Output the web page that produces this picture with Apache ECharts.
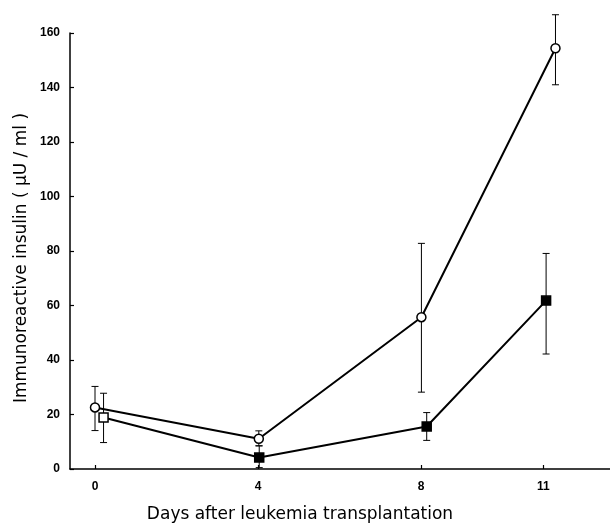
<!DOCTYPE html>
<html>
<head>
<meta charset="utf-8">
<script src="https://cdn.jsdelivr.net/npm/echarts@6/dist/echarts.min.js"></script>
<style>html,body{margin:0;padding:0;background:#fff;}#c{width:610px;height:526px;}</style>
</head>
<body>
<div id="c"></div>
<script>
const xTickValues = [0, 4, 8, 11];
const yTickLabels = [0, 20, 40, 60, 80, 100, 120, 140, 160];
const circleX = [0, 4.02, 8.01, 11.3];
const circleY = [22.6, 11.1, 55.7, 154.4];
const circleLow = [14.1, 8.5, 28.2, 141];
const circleHigh = [30.3, 14.0, 82.8, 166.7];
const squareX = [0.21, 4.03, 8.14, 11.07];
const squareY = [18.9, 4.2, 15.6, 61.8];
const squareLow = [9.7, 0.5, 10.5, 42.2];
const squareHigh = [27.8, 8.5, 20.7, 79.1];
const squareFilled = [false, true, true, true];
const yTitle = 'Immunoreactive insulin ( μU / ml )';
const xTitle = 'Days after leukemia transplantation';

const chart = echarts.init(document.getElementById('c'));
function errData(xs, lo, hi) { return xs.map((x, i) => [x, lo[i], hi[i]]); }
function renderErr(params, api) {
  const x = api.value(0), lo = api.value(1), hi = api.value(2);
  const a = api.coord([x, hi]), b = api.coord([x, lo]);
  const w = 3.5;
  const st = { stroke: '#000', lineWidth: 1 };
  return { type: 'group', children: [
    { type: 'line', shape: { x1: a[0], y1: a[1], x2: b[0], y2: b[1] }, style: st },
    { type: 'line', shape: { x1: a[0] - w, y1: a[1], x2: a[0] + w, y2: a[1] }, style: st },
    { type: 'line', shape: { x1: b[0] - w, y1: b[1], x2: b[0] + w, y2: b[1] }, style: st }
  ]};
}
const labelFont = { color: '#000', fontFamily: 'Liberation Sans', fontWeight: 'bold', fontSize: 12 };
chart.setOption({
  animation: false,
  backgroundColor: '#fff',
  grid: { left: 70, right: 0, top: 33, bottom: 57, containLabel: false },
  xAxis: {
    type: 'value', min: -25 / 40.75, max: 515 / 40.75,
    axisLine: { onZero: false, lineStyle: { color: '#000', width: 1.5 } },
    axisTick: { inside: true, length: 4, customValues: xTickValues, lineStyle: { color: '#000', width: 1.2 } },
    axisLabel: Object.assign({ customValues: xTickValues, margin: 12 }, labelFont),
    splitLine: { show: false }
  },
  yAxis: {
    type: 'value', min: 0, max: 160, interval: 20,
    axisLine: { show: true, onZero: false, lineStyle: { color: '#000', width: 1.5 } },
    axisTick: { show: true, inside: true, length: 4, lineStyle: { color: '#000', width: 1.2 } },
    axisLabel: Object.assign({ margin: 10, formatter: v => yTickLabels.includes(v) ? String(v) : '' }, labelFont),
    splitLine: { show: false }
  },
  graphic: [
    { type: 'text', x: 22, y: 258, rotation: Math.PI / 2, style: { text: yTitle, textAlign: 'center', textVerticalAlign: 'middle', font: '17px "DejaVu Sans"', fill: '#000' } },
    { type: 'text', x: 300, y: 515, style: { text: xTitle, textAlign: 'center', textVerticalAlign: 'middle', font: '17px "DejaVu Sans"', fill: '#000' } }
  ],
  series: [
    { type: 'custom', renderItem: renderErr, data: errData(circleX, circleLow, circleHigh), z: 1, silent: true },
    { type: 'custom', renderItem: renderErr, data: errData(squareX, squareLow, squareHigh), z: 1, silent: true },
    { type: 'line', data: circleX.map((x, i) => [x, circleY[i]]), symbol: 'circle', symbolSize: 9,
      lineStyle: { color: '#000', width: 2 }, itemStyle: { color: '#fff', borderColor: '#000', borderWidth: 1.5 }, z: 3 },
    { type: 'line', data: squareX.map((x, i) => ({ value: [x, squareY[i]], itemStyle: { color: squareFilled[i] ? '#000' : '#fff' } })),
      symbol: 'rect', symbolSize: 9,
      lineStyle: { color: '#000', width: 2 }, itemStyle: { borderColor: '#000', borderWidth: 1.5 }, z: 3 }
  ]
});
</script>
</body>
</html>
